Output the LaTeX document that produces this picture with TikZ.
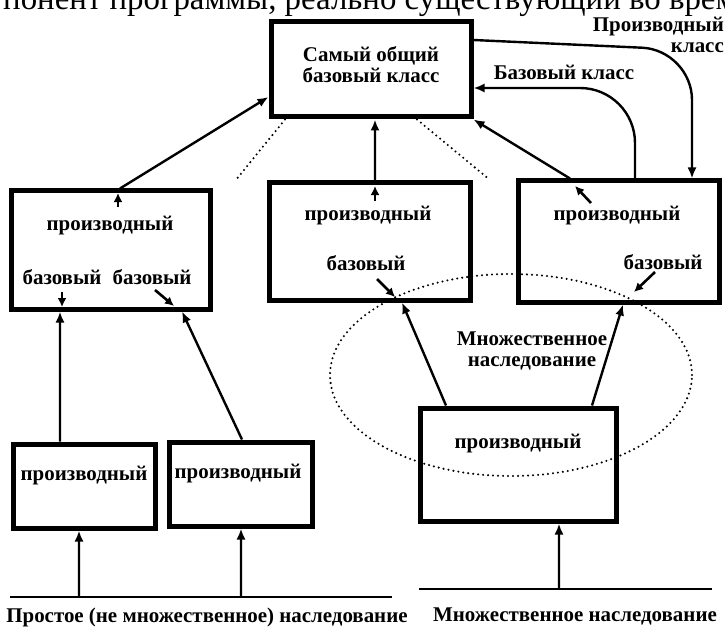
\documentclass[tikz,border=0pt]{standalone}
\usepackage{fontspec}
\setmainfont{Liberation Serif}
\usetikzlibrary{arrows.meta,calc,shapes.geometric}
\begin{document}
\begin{tikzpicture}[x=1bp,y=-1bp,
  box/.style={draw, line width=5bp, inner sep=0pt, outer sep=2.5bp},
  lbl/.style={font=\fontsize{21}{21}\selectfont\bfseries, inner sep=0pt},
  arr/.style={line width=2.4bp, -{Latex[length=11bp,width=9bp]}},
  sarr/.style={line width=2.6bp, -{Latex[length=9bp,width=9bp]}},
  dots/.style={line width=2.3bp, line cap=round, dash pattern=on 0bp off 5bp},
  baseline/.style={line width=2bp}
]
\fill[white] (0,0) rectangle (725,630);
\useasboundingbox (0,0) rectangle (725,630);

% cut-off line of the page text
\begin{scope}
\clip (0,0) rectangle (725,630);
\node[anchor=base west, font=\fontsize{33}{33}\selectfont, inner sep=0pt] (toptext) at (3,10) {понент программы, реально существующий во время};
\end{scope}

% boxes
\node[box, minimum width=200bp, minimum height=95bp] (T) at (371,69.5) {};
\node[box, minimum width=198bp, minimum height=118bp] (L) at (111,250) {};
\node[box, minimum width=201bp, minimum height=117bp] (M) at (369.5,241.5) {};
\node[box, minimum width=201bp, minimum height=121bp] (R) at (618.5,241.5) {};
\node[box, minimum width=141bp, minimum height=84bp] (B1) at (84.5,486) {};
\node[box, minimum width=143bp, minimum height=84bp] (B2) at (240.5,484) {};
\node[box, minimum width=196bp, minimum height=113bp] (B3) at (518,464.5) {};

% texts
\node[lbl, align=center] (Ttxt) at (371,65) {Самый общий\\базовый класс};
\node[lbl] (Lp) at (110,226) {производный};
\node[lbl] (Lb1) at (62,277) {базовый};
\node[lbl] (Lb2) at (152,277) {базовый};
\node[lbl] (Mp) at (368,216) {производный};
\node[lbl] (Mb) at (366,263) {базовый};
\node[lbl] (Rp) at (617,216) {производный};
\node[lbl] (Rb) at (663,262) {базовый};
\node[lbl] (B1p) at (84,476) {производный};
\node[lbl] (B2p) at (238,474) {производный};
\node[lbl] (B3p) at (518,444) {производный};
\node[lbl, align=right, anchor=east] (dlbl) at (724,35) {Производный\\класс};
\node[lbl] (blbl) at (564,72) {Базовый класс};
\node[lbl, align=center] (mlbl) at (532,351) {Множественное\\наследование};
\node[lbl] (simple) at (207,617) {Простое (не множественное) наследование};
\node[lbl] (multi) at (575,616) {Множественное наследование};

% dotted ellipse and dotted lines
\node[draw, ellipse, dots, minimum width=362bp, minimum height=202bp, inner sep=0pt] (E) at (511,375) {};
\coordinate (dl) at (235,181);
\coordinate (dr) at (490,180);
\draw[dots] ([xshift=16.5bp]T.south west) -- (dl);
\draw[dots] ([xshift=148.5bp]T.south west) -- (dr);

% inheritance connectors
\draw[arr] ([xshift=110.5bp]L.north west) -- ([yshift=-77.5bp]T.north west);
\draw[arr] ([xshift=108.5bp]M.north west) -- ([xshift=106.5bp]T.south west);
\draw[arr] ([xshift=54.5bp]R.north west) -- (T.south east);
\draw[arr, rounded corners=50bp] ([yshift=-20.5bp]T.north east) -- (692,50) -- ([xshift=176.5bp]R.north west);
\draw[arr, rounded corners=55bp] ([xshift=119.5bp]R.north west) |- ([yshift=-68.5bp]T.north east);
\draw[arr] ([xshift=48.5bp]B1.north west) -- ([xshift=50.5bp]L.south west);
\draw[arr] ([xshift=75.5bp]B2.north west) -- ([xshift=172.5bp]L.south west);
\draw[arr] ([xshift=28.5bp]B3.north west) -- ([xshift=135.5bp]M.south west);
\draw[arr] ([xshift=174.5bp]B3.north west) -- ([xshift=107.5bp]R.south west);

% small arrows inside boxes
\coordinate (Lu1) at (118,207); \coordinate (Lu2) at (118,193);
\coordinate (Ld1) at (62,292);  \coordinate (Ld2) at (62,307);
\coordinate (Lr1) at (155,290); \coordinate (Lr2) at (174,306);
\coordinate (Mu1) at (375,201); \coordinate (Mu2) at (375,186);
\coordinate (Md1) at (377,279); \coordinate (Md2) at (395,297);
\coordinate (Ru1) at (591,203); \coordinate (Ru2) at (575,186);
\coordinate (Rd1) at (655,272); \coordinate (Rd2) at (634,292);
\draw[sarr] (Lu1) -- (Lu2);
\draw[sarr] (Ld1) -- (Ld2);
\draw[sarr] (Lr1) -- (Lr2);
\draw[sarr] (Mu1) -- (Mu2);
\draw[sarr] (Md1) -- (Md2);
\draw[sarr] (Ru1) -- (Ru2);
\draw[sarr] (Rd1) -- (Rd2);

% ground lines and arrows from them
\coordinate (g1a) at (10,597); \coordinate (g1b) at (392,597);
\coordinate (s1) at (79,597); \coordinate (s2) at (241,597);
\coordinate (g2a) at (419,589); \coordinate (g2b) at (712,589);
\coordinate (s3) at (559,589);
\draw[baseline] (g1a) -- (g1b);
\draw[baseline] (g2a) -- (g2b);
\draw[arr] (s1) -- ([xshift=67.5bp]B1.south west);
\draw[arr] (s2) -- ([xshift=74.5bp]B2.south west);
\draw[arr] (s3) -- ([xshift=141.5bp]B3.south west);
\end{tikzpicture}
\end{document}
